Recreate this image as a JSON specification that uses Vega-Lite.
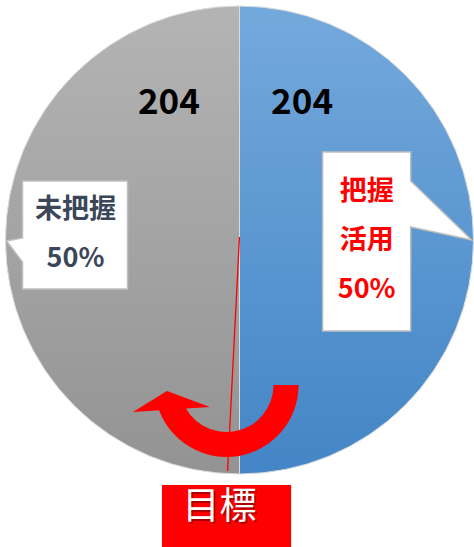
{
  "$schema": "https://vega.github.io/schema/vega-lite/v6.json",
  "width": 474,
  "height": 547,
  "autosize": {"type": "fit", "contains": "padding"},
  "padding": 0,
  "background": "white",
  "config": {"view": {"stroke": null}, "text": {"font": "Noto Sans CJK JP"}},
  "data": {"values": [
    {"category": "把握活用", "count": 204},
    {"category": "未把握", "count": 204}
  ]},
  "layer": [
    {
      "mark": {"type": "arc", "radius": 234, "stroke": "#dcdcdc", "strokeWidth": 1},
      "encoding": {
        "x": {"datum": 241, "type": "quantitative", "scale": {"domain": [0, 474], "nice": false, "zero": false}, "axis": null},
        "y": {"datum": 240, "type": "quantitative", "scale": {"domain": [0, 547], "reverse": true, "nice": false, "zero": false}, "axis": null},
        "theta": {"field": "count", "type": "quantitative"},
        "order": {"field": "category", "sort": "ascending"},
        "color": {
          "condition": {"test": "datum.category === '把握活用'", "value": {"gradient": "linear", "x1": 0, "y1": 0, "x2": 0, "y2": 1, "stops": [{"offset": 0, "color": "#74a9dc"}, {"offset": 1, "color": "#4385c6"}]}},
          "value": {"gradient": "linear", "x1": 0, "y1": 0, "x2": 0, "y2": 1, "stops": [{"offset": 0, "color": "#b4b4b4"}, {"offset": 1, "color": "#939393"}]}
        }
      }
    },
    {
      "transform": [{"filter": "datum.category === '把握活用'"}],
      "mark": {"type": "text", "fontSize": 35, "fontWeight": "bold", "color": "#000000", "align": "center", "baseline": "middle"},
      "encoding": {
        "x": {"datum": 304, "type": "quantitative"},
        "y": {"datum": 103, "type": "quantitative"},
        "text": {"field": "count", "type": "quantitative"}
      }
    },
    {
      "transform": [{"filter": "datum.category === '未把握'"}],
      "mark": {"type": "text", "fontSize": 35, "fontWeight": "bold", "color": "#000000", "align": "center", "baseline": "middle"},
      "encoding": {
        "x": {"datum": 170, "type": "quantitative"},
        "y": {"datum": 103, "type": "quantitative"},
        "text": {"field": "count", "type": "quantitative"}
      }
    },
    {
      "data": {"values": [{}]},
      "mark": {"type": "point", "shape": "M-44,-89 L44,-89 L44,-60 L105,-1 L44,-14 L44,90 L-44,90 Z", "size": 4, "filled": true, "fill": "#ffffff", "stroke": "#bfbfbf", "strokeWidth": 1.5, "opacity": 1},
      "encoding": {
        "x": {"datum": 369, "type": "quantitative"},
        "y": {"datum": 241, "type": "quantitative"}
      }
    },
    {
      "data": {"values": [{}]},
      "mark": {"type": "point", "shape": "M-53,-54 L52,-54 L52,54 L-53,54 L-53,27 L-69,6 L-53,3 Z", "size": 4, "filled": true, "fill": "#ffffff", "stroke": "#bfbfbf", "strokeWidth": 1.5, "opacity": 1},
      "encoding": {
        "x": {"datum": 76, "type": "quantitative"},
        "y": {"datum": 235, "type": "quantitative"}
      }
    },
    {
      "data": {"values": [{}]},
      "mark": {"type": "text", "text": "把握", "fontSize": 27, "fontWeight": "bold", "color": "#ff0000", "align": "center", "baseline": "middle"},
      "encoding": {"x": {"datum": 369, "type": "quantitative"}, "y": {"datum": 192, "type": "quantitative"}}
    },
    {
      "data": {"values": [{}]},
      "mark": {"type": "text", "text": "活用", "fontSize": 27, "fontWeight": "bold", "color": "#ff0000", "align": "center", "baseline": "middle"},
      "encoding": {"x": {"datum": 369, "type": "quantitative"}, "y": {"datum": 241, "type": "quantitative"}}
    },
    {
      "data": {"values": [{}]},
      "mark": {"type": "text", "text": "50%", "fontSize": 27, "fontWeight": "bold", "color": "#ff0000", "align": "center", "baseline": "middle"},
      "encoding": {"x": {"datum": 369, "type": "quantitative"}, "y": {"datum": 290, "type": "quantitative"}}
    },
    {
      "data": {"values": [{}]},
      "mark": {"type": "text", "text": "未把握", "fontSize": 27, "fontWeight": "bold", "color": "#3b4658", "align": "center", "baseline": "middle"},
      "encoding": {"x": {"datum": 76, "type": "quantitative"}, "y": {"datum": 210, "type": "quantitative"}}
    },
    {
      "data": {"values": [{}]},
      "mark": {"type": "text", "text": "50%", "fontSize": 27, "fontWeight": "bold", "color": "#3b4658", "align": "center", "baseline": "middle"},
      "encoding": {"x": {"datum": 76, "type": "quantitative"}, "y": {"datum": 259, "type": "quantitative"}}
    },
    {
      "data": {"values": [{}]},
      "mark": {"type": "rule", "color": "#ff0000", "strokeWidth": 1.3},
      "encoding": {
        "x": {"datum": 241, "type": "quantitative"},
        "y": {"datum": 237, "type": "quantitative"},
        "x2": {"datum": 229},
        "y2": {"datum": 471}
      }
    },
    {
      "data": {"values": [{}]},
      "mark": {"type": "arc", "radius": 72, "radius2": 47, "theta": 1.5708, "theta2": 4.3633, "color": "#ff0000"},
      "encoding": {
        "x": {"datum": 228, "type": "quantitative"},
        "y": {"datum": 385, "type": "quantitative"}
      }
    },
    {
      "data": {"values": [{}]},
      "mark": {"type": "point", "shape": "M-4,-12 L39,4 L-38,9 Z", "size": 4, "filled": true, "fill": "#ff0000", "strokeWidth": 0, "opacity": 1},
      "encoding": {
        "x": {"datum": 172, "type": "quantitative"},
        "y": {"datum": 403, "type": "quantitative"}
      }
    },
    {
      "data": {"values": [{}]},
      "mark": {"type": "rect", "color": "#ff0000"},
      "encoding": {
        "x": {"datum": 163, "type": "quantitative"},
        "x2": {"datum": 293},
        "y": {"datum": 485, "type": "quantitative"},
        "y2": {"datum": 547}
      }
    },
    {
      "data": {"values": [{}]},
      "mark": {"type": "text", "text": "目標", "fontSize": 37, "color": "#7a0000", "opacity": 0.6, "align": "center", "baseline": "middle", "dx": 1.5, "dy": 1.5},
      "encoding": {"x": {"datum": 221, "type": "quantitative"}, "y": {"datum": 508, "type": "quantitative"}}
    },
    {
      "data": {"values": [{}]},
      "mark": {"type": "text", "text": "目標", "fontSize": 37, "color": "#ffffff", "align": "center", "baseline": "middle"},
      "encoding": {"x": {"datum": 221, "type": "quantitative"}, "y": {"datum": 508, "type": "quantitative"}}
    }
  ]
}
